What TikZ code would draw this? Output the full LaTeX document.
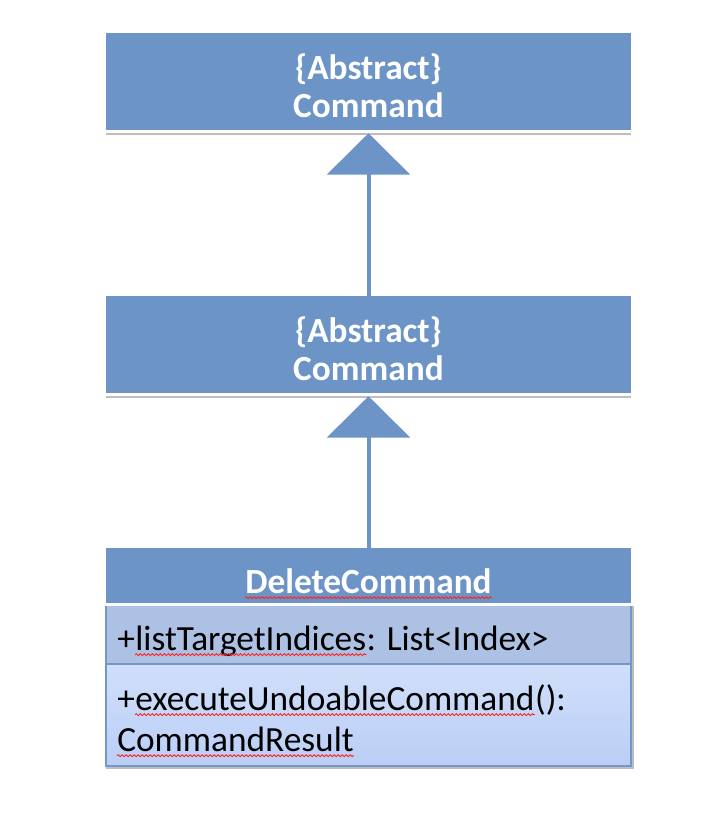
\documentclass[tikz,border=0pt]{standalone}
\usepackage{fontspec}
\setmainfont{Carlito}
\usetikzlibrary{arrows.meta,positioning,decorations.pathmorphing}
\definecolor{umlblue}{RGB}{108,148,198}
\definecolor{umlattr}{RGB}{172,193,227}
\definecolor{umlopstop}{RGB}{208,223,250}
\definecolor{umlopsbot}{RGB}{186,206,246}
\definecolor{umledge}{RGB}{118,150,202}
\definecolor{umlshadow}{RGB}{190,190,190}
\tikzset{
	classfill/.style={fill=umlblue, draw=none, inner sep=0pt, minimum width=393.75pt},
	headtext/.style={text=white, inner sep=0pt, anchor=base, font=\bfseries\fontsize{26.5}{28.5}\selectfont},
	membertext/.style={text=black, inner sep=0pt, anchor=base west, font=\fontsize{26.5}{31.5}\selectfont},
	generalization/.style={umlblue, line width=3pt, -{Triangle[width=62pt,length=31pt]}},
	squiggle/.style={red!85, line width=0.7pt, decorate, decoration={snake, amplitude=0.7pt, segment length=3pt}}
}
\begin{document}
\begin{tikzpicture}[x=0.75pt, y=-0.75pt]
	\useasboundingbox (0,0) rectangle (705,820);

	% the two abstract classes
	\node[classfill, minimum height=72.75pt] (abs1) at (368.5,81.5) {};
	\node[classfill, minimum height=72.75pt] (abs2) at (368.5,344.5) {};
	\node[headtext] (abs1kind) at (368.5,79.5) {\{Abstract\}};
	\node[headtext] (abs1name) at (368.5,117.5) {Command};
	\node[headtext] (abs2kind) at (368.5,342.5) {\{Abstract\}};
	\node[headtext] (abs2name) at (368.5,380.5) {Command};

	% DeleteCommand: name, attributes, operations
	\node[classfill, minimum height=41.25pt] (delhead) at (368.5,575.5) {};
	\node[classfill, fill=umlattr, minimum height=43.5pt] (delattr) at (368.5,635) {};
	\node[classfill, top color=umlopstop, bottom color=umlopsbot, minimum height=76.5pt] (delops) at (368.5,715) {};

	\foreach \b in {abs1,abs2,delhead}{
		\fill[white] (\b.south west) rectangle ([yshift=-2.25pt]\b.south east);
	};
	\foreach \b in {abs1,abs2}{
		\fill[umlshadow] ([yshift=-2.25pt]\b.south west) rectangle ([yshift=-3.75pt]\b.south east);
	};
	\draw[umlshadow, line width=1.5pt] ([yshift=-1pt]delops.south west) -- ([xshift=1pt,yshift=-1pt]delops.south east) -- ([xshift=1pt]delattr.north east);
	\draw[umledge, line width=1.2pt] (delattr.north west) -- (delops.south west) -- (delops.south east) -- (delattr.north east);
	\draw[umledge, line width=1.2pt] (delops.north west) -- (delops.north east);

	\node[headtext] (delname) at (368.5,593) {DeleteCommand};
	\node[membertext] (attrplus) at (117,650) {+};
	\node[membertext] (attrname) at (attrplus.base east) {listTargetIndices};
	\node[membertext] (attrtype) at (attrname.base east) {: List<Index>};
	\node[membertext] (opplus) at (117,710) {+};
	\node[membertext] (opname) at (opplus.base east) {executeUndoableCommand};
	\node[membertext] (opparen) at (opname.base east) {():};
	\node[membertext] (opresult) at (117,751) {CommandResult};

	% spell check marks
	\foreach \t in {delname,attrname,opname,opresult}{
		\draw[squiggle] ([yshift=-3.5pt]\t.base west) -- ([yshift=-3.5pt]\t.base east);
	};

	% inheritance
	\draw[generalization] (abs2.north) -- ([yshift=-2.25pt]abs1.south);
	\draw[generalization] (delhead.north) -- ([yshift=-2.25pt]abs2.south);
\end{tikzpicture}
\end{document}
